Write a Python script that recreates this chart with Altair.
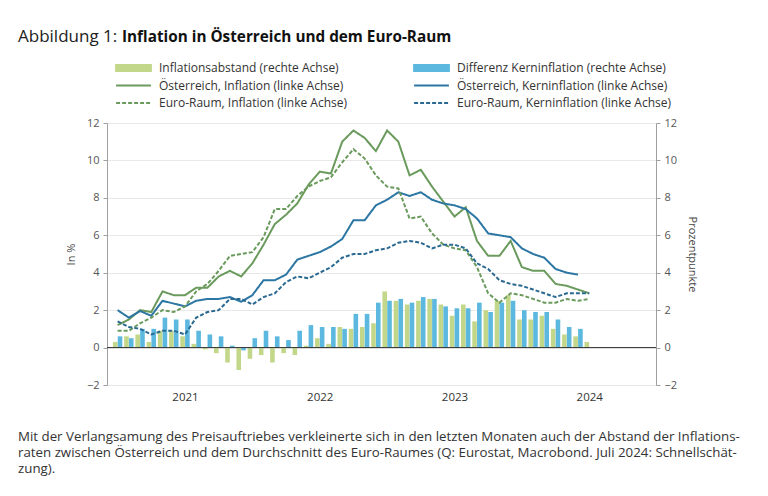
import altair as alt
import pandas as pd

# ---------------- data (monthly, Jan 2021 = 0) ----------------
at_infl = [1.2, 1.5, 2.0, 1.9, 3.0, 2.8, 2.8, 3.2, 3.2, 3.8, 4.1, 3.8,
           4.5, 5.5, 6.6, 7.1, 7.7, 8.7, 9.4, 9.3, 11.0, 11.6, 11.2, 10.5,
           11.6, 11.0, 9.2, 9.5, 8.6, 7.8, 7.0, 7.5, 5.7, 4.9, 4.9, 5.7,
           4.3, 4.1, 4.1, 3.4, 3.3, 3.1, 2.9]
eu_infl = [0.9, 0.9, 1.3, 1.6, 2.0, 1.9, 2.2, 3.0, 3.4, 4.1, 4.9, 5.0,
           5.1, 5.9, 7.4, 7.4, 8.1, 8.6, 8.9, 9.1, 9.9, 10.6, 10.1, 9.2,
           8.6, 8.5, 6.9, 7.0, 6.1, 5.5, 5.3, 5.2, 4.3, 2.9, 2.4, 2.9,
           2.8, 2.6, 2.4, 2.4, 2.6, 2.5, 2.6]
at_core = [2.0, 1.6, 1.95, 1.7, 2.5, 2.35, 2.2, 2.5, 2.6, 2.6, 2.7, 2.45,
           2.8, 3.6, 3.6, 3.9, 4.7, 4.9, 5.1, 5.4, 5.8, 6.8, 6.8, 7.6,
           7.9, 8.3, 8.1, 8.3, 7.9, 7.7, 7.6, 7.4, 6.9, 6.1, 6.0, 5.9,
           5.3, 5.0, 4.8, 4.2, 4.0, 3.9]
eu_core = [1.4, 1.1, 1.0, 0.7, 0.9, 0.9, 0.7, 1.6, 1.9, 2.0, 2.6, 2.6,
           2.3, 2.7, 2.9, 3.5, 3.8, 3.7, 4.0, 4.3, 4.8, 5.0, 5.0, 5.2,
           5.3, 5.6, 5.7, 5.6, 5.3, 5.5, 5.5, 5.3, 4.5, 4.2, 3.6, 3.4,
           3.3, 3.1, 2.9, 2.7, 2.9, 2.9, 2.9]
gap_infl = [0.3, 0.6, 0.7, 0.3, 0.9, 0.9, 0.6, 0.2, -0.1, -0.3, -0.8, -1.2,
            -0.6, -0.4, -0.8, -0.3, -0.4, 0.1, 0.5, 0.2, 1.1, 1.0, 1.1, 1.3,
            3.0, 2.5, 2.3, 2.5, 2.6, 2.3, 1.7, 2.3, 1.4, 2.0, 2.5, 2.8,
            1.5, 1.5, 1.7, 1.0, 0.7, 0.6, 0.3]
gap_core = [0.6, 0.5, 1.0, 1.0, 1.6, 1.5, 1.5, 0.9, 0.7, 0.6, 0.1, -0.15,
            0.5, 0.9, 0.6, 0.4, 0.9, 1.2, 1.1, 1.1, 1.0, 1.8, 1.8, 2.4,
            2.5, 2.6, 2.4, 2.7, 2.6, 2.2, 2.1, 2.1, 2.4, 1.9, 2.4, 2.5,
            2.0, 1.9, 1.9, 1.5, 1.1, 1.0]

# legend order is column-major: left column = headline inflation, right = core
names = ["Inflationsabstand (rechte Achse)",
         "Österreich, Inflation (linke Achse)",
         "Euro-Raum, Inflation (linke Achse)",
         "Differenz Kerninflation (rechte Achse)",
         "Österreich, Kerninflation (linke Achse)",
         "Euro-Raum, Kerninflation (linke Achse)"]
colors = ["#c3d78b", "#6a9a5c", "#6a9a5c", "#5cb8de", "#2b76a3", "#2a6991"]
dashes = [[1, 0], [1, 0], [4, 2], [1, 0], [1, 0], [4, 2]]
rect = "M-2.9,-0.5H2.9V0.5H-2.9Z"
line = "M-2.9,0H2.9"
shapes = [rect, line, line, rect, line, line]

year_ticks = [6, 18, 30, 42]
y_ticks = [-2, 0, 2, 4, 6, 8, 10, 12]

title_a = "Abbildung 1:"
title_b = "Inflation in Österreich und dem Euro-Raum"
caption = ["Mit der Verlangsamung des Preisauftriebes verkleinerte sich in den letzten Monaten auch der Abstand der Inflations-",
           "raten zwischen Österreich und dem Durchschnitt des Euro-Raumes (Q: Eurostat, Macrobond. Juli 2024: Schnellschät-",
           "zung)."]


def frame(name, vals):
    return pd.DataFrame({"m": list(range(len(vals))), "v": vals, "s": name})


lines_df = pd.concat([frame(names[1], at_infl), frame(names[4], at_core),
                      frame(names[2], eu_infl), frame(names[5], eu_core)])
green_df = frame(names[0], gap_infl)
blue_df = frame(names[3], gap_core)

FONT = "Open Sans"
xscale = alt.Scale(domain=[-0.5, 47.5], nice=False, zero=False)
yscale = alt.Scale(domain=[-2, 12], nice=False)
color_scale = alt.Scale(domain=names, range=colors)
dash_scale = alt.Scale(domain=names, range=dashes)
shape_scale = alt.Scale(domain=names, range=shapes)

legend = alt.Legend(orient="none", legendX=19.5, legendY=-62, columns=2, title=None,
                    symbolSize=144, symbolStrokeWidth=2, labelFontSize=12,
                    labelFont=FONT, labelColor="#333", columnPadding=36, gridAlign="all",
                    rowPadding=3.5, labelOffset=18.5, symbolOpacity=1, labelLimit=400)

xaxis = alt.Axis(values=year_ticks, labelExpr="2021 + floor(datum.value / 12)",
                 domain=False, ticks=False, grid=False, title=None,
                 labelFontSize=11.5, labelColor="#333", labelPadding=6, labelFont=FONT)
common = dict(values=y_ticks, domainColor="#a0a0a0", tickColor="#a0a0a0", tickSize=4,
              labelFontSize=11, labelColor="#555", labelFont=FONT, labelPadding=4,
              titleFont=FONT, titleFontSize=11, titleFontWeight="normal", titleColor="#444")
left_axis = alt.Axis(title="In %", grid=True, gridColor="#e8e8e8", orient="left",
                     titlePadding=10, **common)
right_axis = alt.Axis(title="Prozentpunkte", grid=False, orient="right",
                      titlePadding=10, **common)

X = alt.X("m:Q", scale=xscale, axis=xaxis)

green_bars = alt.Chart(green_df).mark_bar(width=4.6, xOffset=-2.4).encode(
    x=X, y=alt.Y("v:Q", scale=yscale, axis=right_axis),
    color=alt.Color("s:N", scale=color_scale, legend=legend))
blue_bars = alt.Chart(blue_df).mark_bar(width=4.6, xOffset=2.4).encode(
    x=X, y=alt.Y("v:Q", scale=yscale, axis=right_axis),
    color=alt.Color("s:N", scale=color_scale, legend=legend))
bars = alt.layer(green_bars, blue_bars)

zero = alt.Chart(pd.DataFrame({"z": [0]})).mark_rule(color="#333", strokeWidth=1).encode(
    y=alt.Y("z:Q", scale=yscale, axis=left_axis))
lines = alt.Chart(lines_df).mark_line(strokeWidth=2).encode(
    x=X, y=alt.Y("v:Q", scale=yscale, axis=left_axis),
    color=alt.Color("s:N", scale=color_scale, legend=legend),
    strokeDash=alt.StrokeDash("s:N", scale=dash_scale, legend=legend))
shape_keys = alt.Chart(lines_df).transform_filter("false").mark_point(filled=True).encode(
    x=X, y=alt.Y("v:Q", scale=yscale, axis=left_axis),
    shape=alt.Shape("s:N", scale=shape_scale, legend=legend),
    color=alt.Color("s:N", scale=color_scale, legend=legend))

t1 = alt.Chart(pd.DataFrame({"t": [title_a]})).mark_text(
    align="left", baseline="alphabetic", font=FONT, fontSize=17, color="#222").encode(
    x=alt.value(-89), y=alt.value(-81), text="t:N")
t2 = alt.Chart(pd.DataFrame({"t": [title_b]})).mark_text(
    align="left", baseline="alphabetic", font=FONT, fontSize=15.3, fontWeight="bold", color="#111").encode(
    x=alt.value(15), y=alt.value(-81), text="t:N")

cap_layers = []
for i, txt in enumerate(caption):
    cap_layers.append(alt.Chart(pd.DataFrame({"t": [txt]})).mark_text(
        align="left", baseline="alphabetic", font=FONT, fontSize=13.3, color="#333").encode(
        x=alt.value(-89), y=alt.value(318 + 16 * i), text="t:N"))

left = alt.layer(zero, lines, shape_keys, t1, t2, *cap_layers)

chart = alt.layer(bars, left).resolve_scale(y="independent").properties(
    width=549, height=262,
    autosize=alt.AutoSizeParams(type="none"),
    padding={"left": 107, "top": 123, "right": 112, "bottom": 111},
).configure_view(stroke=None).configure(background="white")

chart.save("out.html", embed_options={"renderer": "svg", "actions": False})
